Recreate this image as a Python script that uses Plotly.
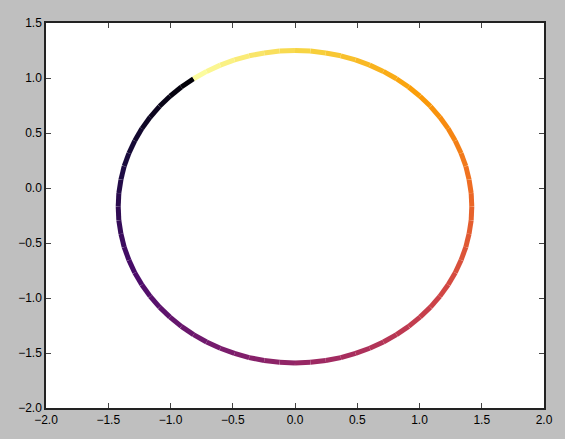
import plotly.graph_objects as go
from plotly.colors import sample_colorscale

# Orbit path points, traversed counter-clockwise from the upper-left start
orbit_x = [-0.815, -0.913, -1.004, -1.088, -1.163, -1.230, -1.287, -1.334, -1.372, -1.398,
           -1.415, -1.420, -1.415, -1.398, -1.372, -1.334, -1.287, -1.230, -1.163, -1.088,
           -1.004, -0.913, -0.815, -0.710, -0.600, -0.486, -0.368, -0.247, -0.124, 0.000,
           0.124, 0.247, 0.368, 0.486, 0.600, 0.710, 0.815, 0.913, 1.004, 1.088,
           1.163, 1.230, 1.287, 1.334, 1.372, 1.398, 1.415, 1.420, 1.415, 1.398,
           1.372, 1.334, 1.287, 1.230, 1.163, 1.088, 1.004, 0.913, 0.815, 0.710,
           0.600, 0.486, 0.368, 0.247, 0.124, 0.000, -0.124, -0.247, -0.368, -0.486,
           -0.600, -0.710, -0.815]
orbit_y = [0.993, 0.918, 0.834, 0.743, 0.645, 0.540, 0.430, 0.316, 0.198, 0.077,
           -0.046, -0.170, -0.294, -0.417, -0.538, -0.656, -0.770, -0.880, -0.985, -1.083,
           -1.174, -1.258, -1.333, -1.400, -1.457, -1.504, -1.542, -1.568, -1.585, -1.590,
           -1.585, -1.568, -1.542, -1.504, -1.457, -1.400, -1.333, -1.258, -1.174, -1.083,
           -0.985, -0.880, -0.770, -0.656, -0.538, -0.417, -0.294, -0.170, -0.046, 0.077,
           0.198, 0.316, 0.430, 0.540, 0.645, 0.743, 0.834, 0.918, 0.993, 1.060,
           1.117, 1.164, 1.202, 1.228, 1.245, 1.250, 1.245, 1.228, 1.202, 1.164,
           1.117, 1.060, 0.993]

tick_vals_x = [-2.0, -1.5, -1.0, -0.5, 0.0, 0.5, 1.0, 1.5, 2.0]
tick_vals_y = [-2.0, -1.5, -1.0, -0.5, 0.0, 0.5, 1.0, 1.5]

n_seg = len(orbit_x) - 1
seg_colors = sample_colorscale("Inferno", [(i + 0.5) / n_seg for i in range(n_seg)])

fig = go.Figure()
for i in range(n_seg):
    fig.add_trace(go.Scatter(
        x=orbit_x[i:i + 2], y=orbit_y[i:i + 2], mode="lines",
        line=dict(color=seg_colors[i], width=5),
        hoverinfo="skip", showlegend=False,
    ))

axis_common = dict(
    showgrid=False, zeroline=False,
    showline=True, linecolor="#222222", linewidth=1.5, mirror="ticks",
    ticks="inside", ticklen=5, tickwidth=1, tickcolor="#444444",
    tickformat=".1f", tickfont=dict(family="Liberation Sans, Arial, sans-serif", size=12, color="black"),
)

fig.update_layout(
    width=565, height=439,
    paper_bgcolor="#bfbfbf", plot_bgcolor="white",
    margin=dict(l=46, r=16, t=23, b=27),
    xaxis=dict(range=[-2, 2], tickvals=tick_vals_x, **axis_common),
    yaxis=dict(range=[-2, 1.5], tickvals=tick_vals_y, **axis_common),
)

fig.write_html("out.html")
